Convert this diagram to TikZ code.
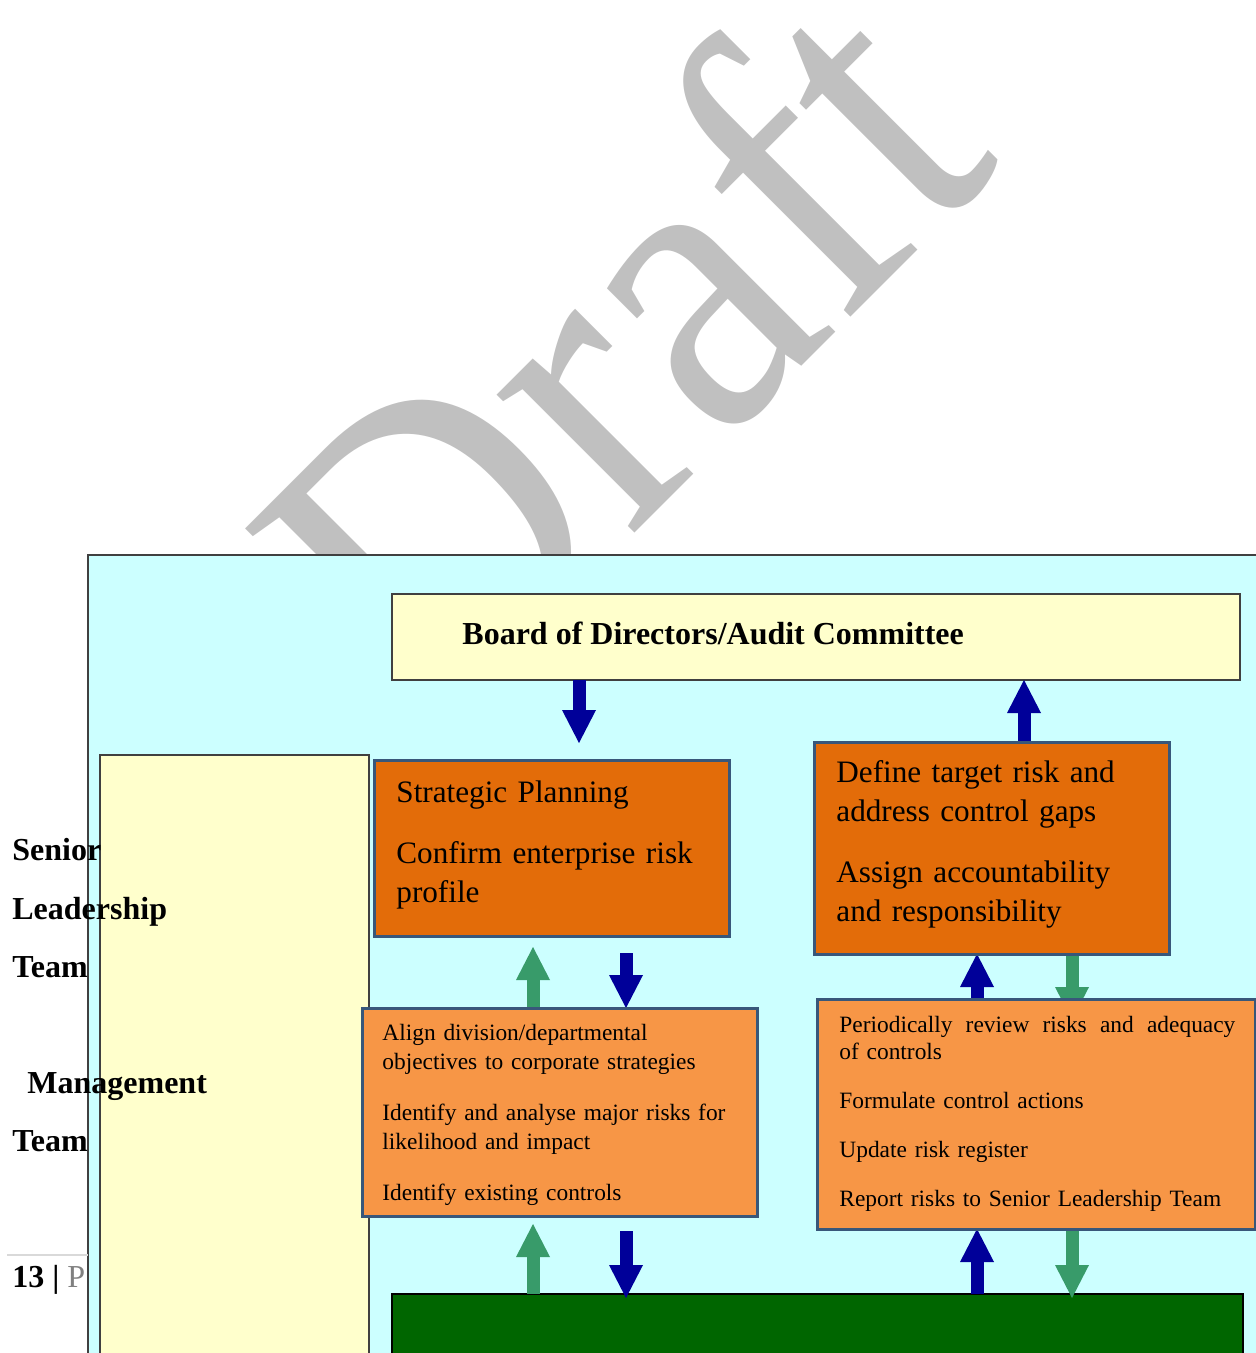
\documentclass[tikz,border=0pt]{standalone}
\usepackage{fontspec}
\setmainfont{Liberation Serif}
\usetikzlibrary{arrows.meta,calc}

\definecolor{paleCyan}{RGB}{204,255,255}
\definecolor{paleYellow}{RGB}{255,255,204}
\definecolor{deepOrange}{RGB}{227,108,9}
\definecolor{softOrange}{RGB}{247,150,70}
\definecolor{slateEdge}{RGB}{56,87,122}
\definecolor{frameGray}{RGB}{64,64,64}
\definecolor{navyFlow}{RGB}{0,0,153}
\definecolor{greenFlow}{RGB}{56,155,106}
\definecolor{opsGreen}{RGB}{0,102,0}
\definecolor{markGray}{RGB}{192,192,192}
\definecolor{footGray}{RGB}{128,128,128}
\definecolor{ruleGray}{RGB}{217,217,217}

\pgfdeclarelayer{back}
\pgfdeclarelayer{flows}
\pgfsetlayers{back,flows,main}

\begin{document}
\begin{tikzpicture}[x=0.5pt,y=-0.5pt,
  panel/.style={draw=frameGray, line width=1pt, inner sep=0pt, outer sep=0pt, anchor=north west},
  taskbox/.style={draw=slateEdge, line width=1.5pt, inner sep=0pt, outer sep=0pt, anchor=north west},
  bigtext/.style={anchor=base west, inner sep=0pt, align=left, font=\fontsize{15.6pt}{19.5pt}\selectfont},
  smalltext/.style={anchor=base west, inner sep=0pt, align=left},
  sidelabel/.style={anchor=base west, inner sep=0pt, font=\fontsize{16pt}{19pt}\selectfont\bfseries},
  flow/.style={line width=6.5pt, -{Triangle[width=17pt,length=16.5pt,line width=0pt]}},
  navyflow/.style={flow, draw=navyFlow, fill=navyFlow},
  greenflow/.style={flow, draw=greenFlow, fill=greenFlow},
  watermark/.style={font=\fontsize{212.5pt}{212.5pt}\selectfont, text=markGray,
    inner sep=0pt, anchor=base west, rotate=45, xscale=0.9}
]
\useasboundingbox (0,0) rectangle (1256,1353);

% background: watermark, frame, side column, board and operations bar
\begin{pgfonlayer}{back}
  \node[watermark] (mark) at (434,734) {Draft};
  \node[panel, fill=paleCyan, minimum width=600pt, minimum height=420pt] (frame) at (88,555) {};
  \node[panel, fill=paleYellow, minimum width=134.5pt, minimum height=320pt] (side) at (100,755) {};
  \node[panel, fill=paleYellow, minimum width=424pt, minimum height=43pt] (board) at (392,594) {};
  \node[panel, draw=black, fill=opsGreen, minimum width=425.5pt, minimum height=50pt] (ops) at (392,1294) {};
\end{pgfonlayer}

% process boxes
\node[taskbox, fill=deepOrange, minimum width=177.5pt, minimum height=88pt] (plan) at (374,760) {};
\node[taskbox, fill=deepOrange, minimum width=177.5pt, minimum height=106pt] (define) at (814,742) {};
\node[taskbox, fill=softOrange, minimum width=197.5pt, minimum height=104pt] (align) at (362,1008) {};
\node[taskbox, fill=softOrange, minimum width=219pt, minimum height=115pt] (review) at (817,999) {};

% arrow columns
\coordinate (colA) at (579,0);
\coordinate (colB) at (1024,0);
\coordinate (colC) at (533,0);
\coordinate (colD) at (626,0);
\coordinate (colE) at (977,0);
\coordinate (colF) at (1072,0);

% flows between the levels
\begin{pgfonlayer}{flows}
  \draw[navyflow] (board.south -| colA) -- ($(plan.north -| colA)+(0,-17)$);
  \draw[navyflow] (define.north -| colB) -- (board.south -| colB);
  \draw[greenflow] (align.north -| colC) -- ($(plan.south -| colC)+(0,11)$);
  \draw[navyflow] ($(plan.south -| colD)+(0,17)$) -- (align.north -| colD);
  \draw[navyflow] (review.north -| colE) -- (define.south -| colE);
  \draw[greenflow] (define.south -| colF) -- ($(review.north -| colF)+(0,21)$);
  \draw[greenflow] (ops.north -| colC) -- ($(align.south -| colC)+(0,8)$);
  \draw[navyflow] ($(align.south -| colD)+(0,15)$) -- ($(ops.north -| colD)+(0,4)$);
  \draw[navyflow] (ops.north -| colE) -- (review.south -| colE);
  \draw[greenflow] (review.south -| colF) -- ($(ops.north -| colF)+(0,4)$);
\end{pgfonlayer}

% texts
\node[anchor=base west, inner sep=0pt, font=\fontsize{16pt}{19pt}\selectfont\bfseries] (boardtext) at (462,644)
  {Board of Directors/Audit Committee};

\node[bigtext, text width=172pt] (plantext) at (396,802)
  {Strategic Planning\\[11pt]Confirm enterprise risk\\profile};

\node[bigtext, text width=172pt] (definetext) at (836,782)
  {Define target risk and\\address control gaps\\[11pt]Assign accountability\\and responsibility};

\begin{scope}
  \clip (align.north west) rectangle (757,1205);
  \node[smalltext, text width=190pt, font=\fontsize{11.7pt}{14.75pt}\selectfont] (aligntext) at (382,1040)
    {Align division/departmental\\objectives to corporate strategies\\[10.5pt]Identify and analyse major risks for\\likelihood and impact\\[10.5pt]Identify existing controls};
\end{scope}

\node[smalltext, text width=200pt, font=\fontsize{11.7pt}{13.5pt}\selectfont] (reviewtext) at (839,1032)
  {\makebox[198pt][l]{Periodically\hfill review\hfill risks\hfill and\hfill adequacy}\\of controls\\[11pt]Formulate control actions\\[11pt]Update risk register\\[11pt]Report risks to Senior Leadership Team};

% side labels
\node[sidelabel] (l1) at (12,860) {Senior};
\node[sidelabel] (l2) at (12,919) {Leadership};
\node[sidelabel] (l3) at (12,977) {Team};
\node[sidelabel] (l4) at (27,1093) {Management};
\node[sidelabel] (l5) at (12,1151) {Team};

% page footer
\draw[ruleGray, line width=1pt] (7,1255) -- (88,1255);
\node[anchor=base west, inner sep=0pt, font=\fontsize{16pt}{19pt}\selectfont] (pagenum) at (12,1287)
  {\textbf{13 |} \textcolor{footGray}{P}};
\end{tikzpicture}
\end{document}
